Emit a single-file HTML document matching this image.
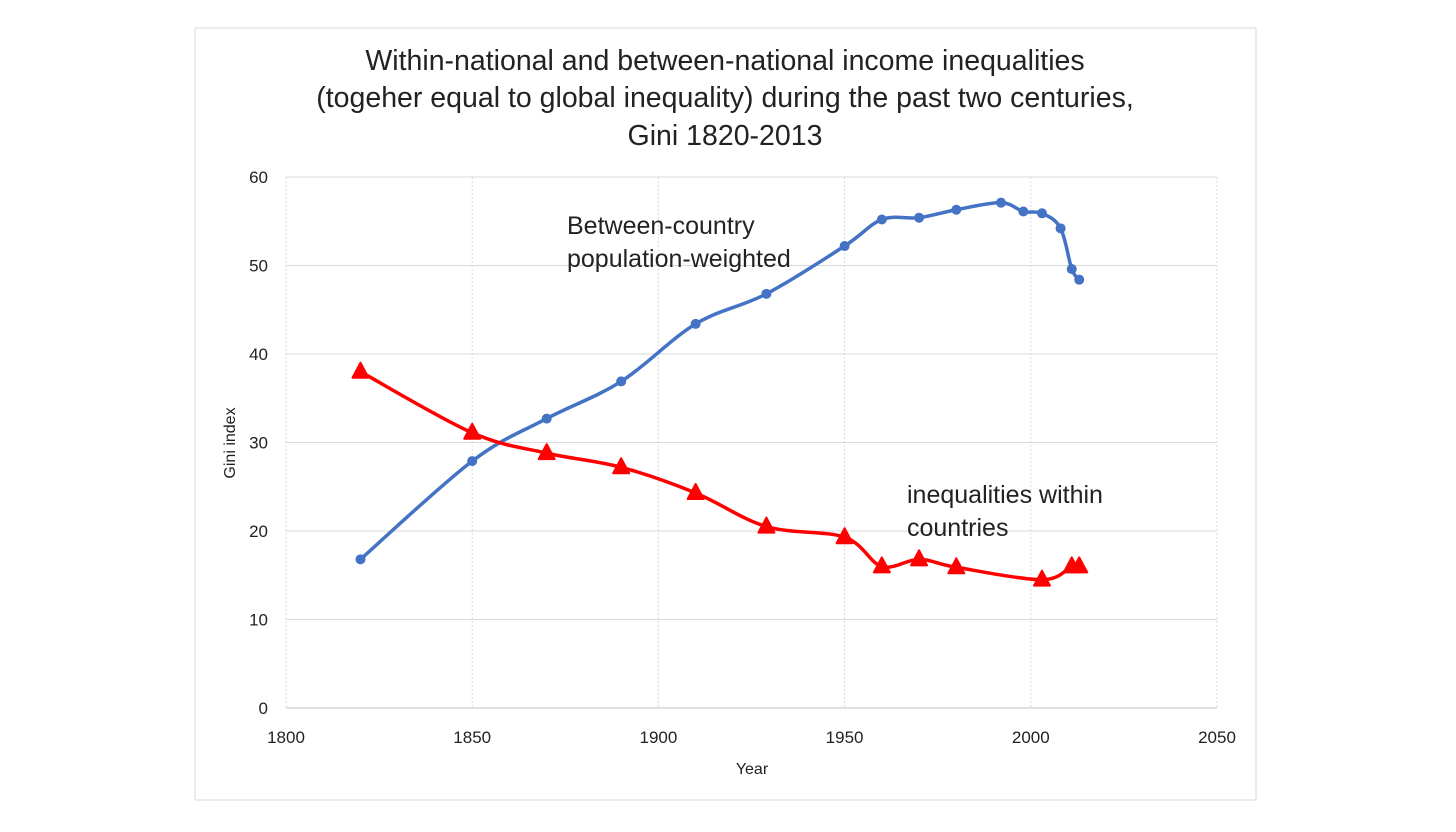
<!DOCTYPE html>
<html><head><meta charset="utf-8"><style>
body{margin:0;background:#fff;}
svg text{font-family:"Liberation Sans",sans-serif;fill:#222;}
</style></head><body>
<svg width="1456" height="827" viewBox="0 0 1456 827" xmlns="http://www.w3.org/2000/svg">
<rect x="195" y="28" width="1061" height="772" fill="#fff" stroke="#d9d9d9"/>
<g font-size="28.5" text-anchor="middle">
<text x="725" y="70">Within-national and between-national income inequalities</text>
<text x="725" y="107">(togeher equal to global inequality) during the past two centuries,</text>
<text x="725" y="145">Gini 1820-2013</text>
</g>
<g id="grid"></g><g id="ticks"></g><g id="series"></g>
<text x="235" y="443" font-size="16" text-anchor="middle" transform="rotate(-90 235 443)">Gini index</text>
<text x="752" y="774" font-size="16" text-anchor="middle">Year</text>
<g font-size="25">
<text x="567" y="234">Between-country</text>
<text x="567" y="267">population-weighted</text>
<text x="907" y="503">inequalities within</text>
<text x="907" y="536">countries</text>
</g>
</svg>
<script>
const xTicks=[1800,1850,1900,1950,2000,2050];
const yTicks=[0,10,20,30,40,50,60];
const blueYears=[1820,1850,1870,1890,1910,1929,1950,1960,1970,1980,1992,1998,2003,2008,2011,2013];
const blueVals=[16.8,27.9,32.7,36.9,43.4,46.8,52.2,55.2,55.4,56.3,57.1,56.1,55.9,54.2,49.6,48.4];
const redYears=[1820,1850,1870,1890,1910,1929,1950,1960,1970,1980,2003,2011,2013];
const redVals=[38,31.1,28.8,27.2,24.3,20.5,19.3,16,16.8,15.9,14.5,16,16];
const NS='http://www.w3.org/2000/svg';
const X=v=>286+(v-1800)*(931/250), Y=v=>708-v*(531/60);
function mk(t,a,p){const e=document.createElementNS(NS,t);for(const k in a)e.setAttribute(k,a[k]);p.appendChild(e);return e;}
const grid=document.getElementById('grid'),ticks=document.getElementById('ticks'),ser=document.getElementById('series');
yTicks.forEach(v=>{const l=mk('line',{x1:286,x2:1217,y1:Y(v),y2:Y(v),stroke:v===0?'#bfbfbf':'#d9d9d9'},grid);


const t=mk('text',{x:268,y:Y(v)+6,'font-size':17,'text-anchor':'end'},ticks);t.textContent=v;

});
xTicks.forEach(v=>{const l=mk('line',{x1:X(v),x2:X(v),y1:Y(60),y2:Y(0),stroke:'#d9d9d9','stroke-dasharray':'2,2'},grid);


const t=mk('text',{x:X(v),y:743,'font-size':17,'text-anchor':'middle'},ticks);t.textContent=v;

});
function path(xs,ys){const p=xs.map((x,i)=>[X(x),Y(ys[i])]);let d='M'+p[0];
for(let i=0;i<p.length-1;i++){const p0=p[i-1]||p[i],p1=p[i],p2=p[i+1],p3=p[i+2]||p2;
const c1=[p1[0]+(p2[0]-p0[0])/6,p1[1]+(p2[1]-p0[1])/6],c2=[p2[0]-(p3[0]-p1[0])/6,p2[1]-(p3[1]-p1[1])/6];
d+=' C'+c1+' '+c2+' '+p2;}return d;}
const bl=mk('path',{d:path(blueYears,blueVals),fill:'none',stroke:'#4472c4','stroke-width':3.5},ser);


blueYears.forEach((y,i)=>{const c=mk('circle',{cx:X(y),cy:Y(blueVals[i]),r:5,fill:'#4472c4'},ser);

});
const rl=mk('path',{d:path(redYears,redVals),fill:'none',stroke:'#ff0000','stroke-width':3.5},ser);


redYears.forEach((y,i)=>{const cx=X(y),cy=Y(redVals[i]);
const t=mk('polygon',{points:`${cx},${cy-9} ${cx-8},${cy+6} ${cx+8},${cy+6}`,fill:'#ff0000',stroke:'#ff0000','stroke-width':2,'stroke-linejoin':'round'},ser);

});
</script>
</body></html>
